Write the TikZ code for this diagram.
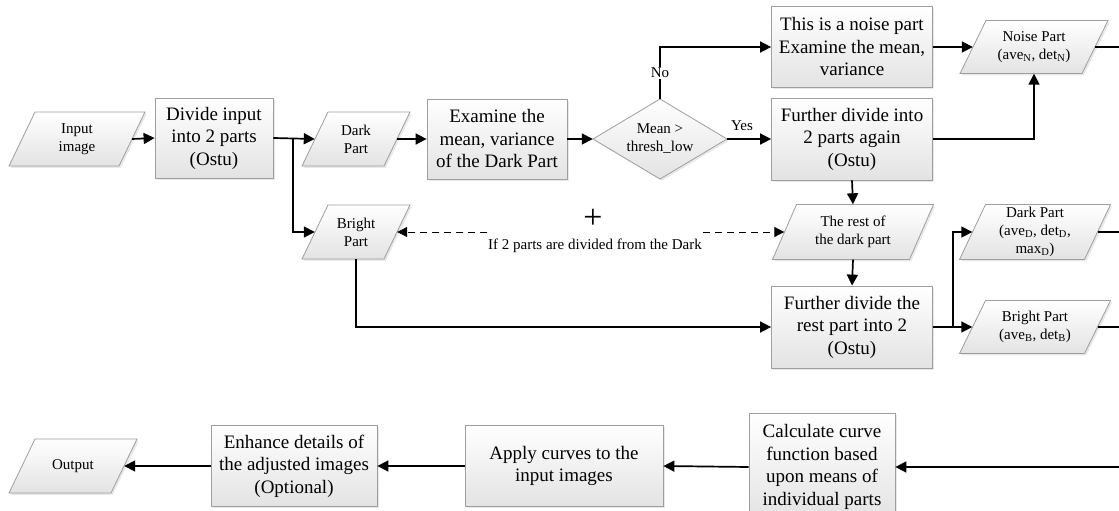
\documentclass[tikz,border=0pt]{standalone}
\usepackage{fontspec}
\setmainfont{Liberation Serif}
\usetikzlibrary{arrows.meta,shadows}
\newcommand\bigf{\fontsize{19}{22.5}\selectfont}
\newcommand\smallf{\fontsize{15}{18}\selectfont}
\tikzset{
  shapefill/.style={draw=black!38, line width=0.8pt, top color=white, bottom color=black!11,
    drop shadow={opacity=0.18, shadow xshift=1.8pt, shadow yshift=-1.8pt}},
  box/.style={shapefill, rectangle, align=center, inner sep=2pt, font=\bigf},
  paratext/.style={rectangle, align=center, inner sep=0pt, font=\smallf},
  conn/.style={line width=1.7pt, -{Triangle[length=11pt,width=11pt]}},
  line/.style={line width=1.7pt},
  dashconn/.style={line width=1pt, dash pattern=on 7pt off 5pt, -{Triangle[length=10pt,width=10pt]}},
  lbl/.style={font=\smallf, fill=white, inner sep=1.5pt},
}
% name, cx, cy, mid width, height, text, slant
\newcommand\para[7]{%
  \path[shapefill] ({#2-#4/2+#7/2},{#3-#5/2}) -- ({#2+#4/2+#7/2},{#3-#5/2})
     -- ({#2+#4/2-#7/2},{#3+#5/2}) -- ({#2-#4/2-#7/2},{#3+#5/2}) -- cycle;
  \node[paratext, minimum width={#4pt}, minimum height={#5pt}] (#1) at (#2,#3) {#6};}
\begin{document}
\begin{tikzpicture}[x=1pt,y=-1pt]
\useasboundingbox (0,0) rectangle (1119,511);
\clip (0,0) rectangle (1119,511);
% row 1
\para{in}{77}{139}{110}{54}{Input\\image}{26}
\node[box, minimum width=118pt, minimum height=80pt] (divide) at (214,138) {Divide input\\into 2 parts\\(Ostu)};
\para{dark}{356}{139}{82}{54}{Dark\\Part}{26}
\para{bright}{356}{232}{82}{54}{Bright\\Part}{26}
\node[box, minimum width=140pt, minimum height=80pt] (exam) at (497,139) {Examine the\\mean, variance\\of the Dark Part};
\path[shapefill] (593,139) -- (660,99) -- (727,139) -- (660,179) -- cycle;
\node[paratext, minimum width=134pt, minimum height=80pt] (dia) at (660,139) {Mean >\\thresh\_low};
\node[box, minimum width=161pt, minimum height=81pt] (noise) at (852,47) {This is a noise part\\Examine the mean,\\variance};
\node[box, minimum width=161pt, minimum height=82pt] (further) at (852,139) {Further divide into\\2 parts again\\(Ostu)};
\para{noisep}{1034}{47}{122}{53}{Noise Part\\(ave\textsubscript{N}, det\textsubscript{N})}{26}
\para{rest}{853}{232}{137}{55}{The rest of\\the dark part}{24}
\node[box, minimum width=161pt, minimum height=82pt] (rest2) at (852,327) {Further divide the\\rest part into 2\\(Ostu)};
\para{darkr}{1035}{232}{125}{55}{Dark Part\\(ave\textsubscript{D}, det\textsubscript{D},\\max\textsubscript{D})}{26}
\para{brightr}{1035}{327}{125}{53}{Bright Part\\(ave\textsubscript{B}, det\textsubscript{B})}{26}
% bottom row
\para{out}{73}{466}{102}{54}{Output}{26}
\node[box, minimum width=166pt, minimum height=81pt] (enh) at (294,466) {Enhance details of\\the adjusted images\\(Optional)};
\node[box, minimum width=198pt, minimum height=81pt] (apply) at (564,466) {Apply curves to the\\input images};
\node[box, minimum width=146pt, minimum height=108pt] (calc) at (822,467) {Calculate curve\\function based\\upon means of\\individual parts};
% free-end coordinates
\coordinate (split1) at (293,139);
\coordinate (split2) at (953,327);
\coordinate (offN) at (1130,47);
\coordinate (offD) at (1130,232);
\coordinate (offB) at (1130,327);
\coordinate (offC) at (1130,467);
\coordinate (dl) at (487,232);
\coordinate (dr) at (703,232);
% connectors
\draw[conn] (in.east) -- (divide.west);
\draw[conn] (divide.east) -- (dark.west);
\draw[conn] (split1) |- (bright.west);
\draw[conn] (dark.east) -- (exam.west);
\draw[conn] (exam.east) -- (dia.west);
\draw[conn] (dia.north) |- (noise.west);
\node[lbl] (no) at (660,73) {No};
\draw[conn] (dia.east) -- (further.west);
\node[font=\smallf] (yes) at (742,126) {Yes};
\draw[conn] (noise.east) -- (noisep.west);
\draw[conn] (further.east) -| (noisep.south);
\draw[line] (noisep.east) -- (offN);
\draw[conn] (further.south) -- (rest.north);
\draw[conn] (rest.south) -- (rest2.north);
\draw[conn] (rest2.east) -- (brightr.west);
\draw[conn] (split2) |- (darkr.west);
\draw[line] (darkr.east) -- (offD);
\draw[line] (brightr.east) -- (offB);
\draw[conn] (bright.south) |- (rest2.west);
\draw[dashconn] (dl) -- (bright.east);
\draw[dashconn] (dr) -- (rest.west);
\node[font=\fontsize{34}{34}\selectfont] (plus) at (593,219) {+};
\node[font=\smallf] (iftext) at (595,246) {If 2 parts are divided from the Dark};
\draw[conn] (offC) -- (calc.east);
\draw[conn] (calc.west) -- (apply.east);
\draw[conn] (apply.west) -- (enh.east);
\draw[conn] (enh.west) -- (out.east);
\end{tikzpicture}
\end{document}
